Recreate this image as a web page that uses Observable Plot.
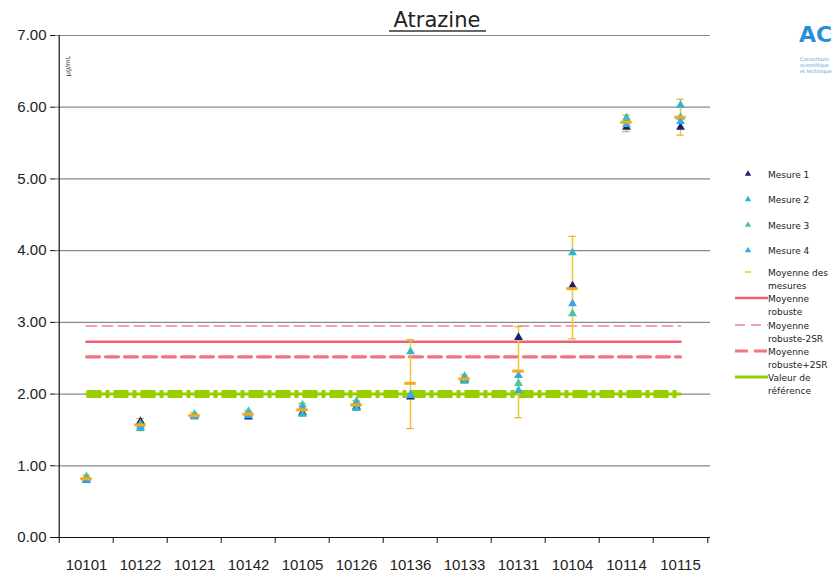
<!DOCTYPE html>
<html>
<head>
<meta charset="utf-8">
<script src="https://cdn.jsdelivr.net/npm/d3@7"></script>
<script src="https://cdn.jsdelivr.net/npm/@observablehq/plot@0.6"></script>
<style>
  html, body { margin: 0; padding: 0; background: #fff; }
  #chart { width: 834px; height: 576px; overflow: hidden; }
</style>
</head>
<body>
<div id="chart"></div>
<script>
// ---- data ----
const title = "Atrazine";
const unitLabel = "µg/mL";
const categories = ["10101","10122","10121","10142","10105","10126","10136","10133","10131","10104","10114","10115"];
const mesure1 = [0.80, 1.62, 1.70, 1.68, 1.74, 1.82, 1.96, 2.20, 2.79, 3.51, 5.72, 5.72];
const mesure2 = [0.82, 1.52, 1.70, 1.72, 1.72, 1.80, 2.59, 2.18, 2.05, 3.97, 5.85, 6.03];
const mesure3 = [0.85, 1.58, 1.72, 1.76, 1.85, 1.90, 2.00, 2.25, 2.15, 3.12, 5.82, 5.86];
const mesure4 = [0.80, 1.55, 1.68, 1.70, 1.80, 1.86, 1.98, 2.22, 2.26, 3.26, 5.76, 5.80];
const moyenne = [0.82, 1.57, 1.70, 1.72, 1.78, 1.85, 2.15, 2.21, 2.32, 3.47, 5.79, 5.86];
const errLow  = [0.77, 1.49, 1.66, 1.66, 1.70, 1.78, 1.52, 2.16, 1.67, 2.77, 5.66, 5.61];
const errHigh = [0.87, 1.66, 1.74, 1.77, 1.87, 1.91, 2.76, 2.27, 2.94, 4.20, 5.89, 6.11];
const moyenneRobuste = 2.73;
const robusteMoins2SR = 2.95;
const robustePlus2SR = 2.52;
const valeurReference = 2.00;
const yTicks = [0, 1, 2, 3, 4, 5, 6, 7];
const seriesNames = ["Mesure 1", "Mesure 2", "Mesure 3", "Mesure 4"];
const seriesColors = ["#1b1f78", "#2cb6d2", "#4ec4a2", "#3ba8e6"];
const legendLines = [
  ["Moyenne des", "mesures"],
  ["Moyenne", "robuste"],
  ["Moyenne", "robuste-2SR"],
  ["Moyenne", "robuste+2SR"],
  ["Valeur de", "référence"]
];

// ---- build tables ----
const measures = [mesure1, mesure2, mesure3, mesure4];
const points = [];
measures.forEach((arr, s) => arr.forEach((v, i) => points.push({cat: categories[i], series: seriesNames[s], value: v})));
const stats = categories.map((c, i) => ({cat: c, mean: moyenne[i], lo: errLow[i], hi: errHigh[i]}));

const W = 834, H = 576, mL = 55, mR = 124, mT = 35, mB = 39;
const bw = (W - mL - mR) / categories.length;

const refLine = (v) => categories.map(c => ({cat: c, v}));

const plot = Plot.plot({
  width: W, height: H,
  marginLeft: mL, marginRight: mR, marginTop: mT, marginBottom: mB,
  style: {fontFamily: "'Liberation Sans', Arial, sans-serif", background: "#fff", color: "#222"},
  x: {type: "band", domain: categories, padding: 0, label: null},
  y: {domain: [0, 7], label: null},
  color: {domain: seriesNames, range: seriesColors},
  marks: [
    Plot.gridY(yTicks, {stroke: "#8a8a8a", strokeOpacity: 1, strokeWidth: 1.2}),
    // reference lines
    Plot.lineY(refLine(valeurReference), {x: "cat", y: "v", stroke: "#9acd00", strokeWidth: 3}),
    Plot.lineY(refLine(valeurReference), {x: "cat", y: "v", stroke: "#9acd00", strokeWidth: 8, strokeDasharray: "15,4,4,4", strokeLinecap: "butt"}),
    Plot.lineY(refLine(robusteMoins2SR), {x: "cat", y: "v", stroke: "#f2a3aa", strokeWidth: 2, strokeDasharray: "10,6"}),
    Plot.lineY(refLine(robustePlus2SR), {x: "cat", y: "v", stroke: "#ee7581", strokeWidth: 3.2, strokeDasharray: "13,6"}),
    Plot.lineY(refLine(moyenneRobuste), {x: "cat", y: "v", stroke: "#f0606e", strokeWidth: 2.5}),
    // error bars
    Plot.ruleX(stats, {x: "cat", y1: "lo", y2: "hi", stroke: "#f4c531", strokeWidth: 1.5}),
    Plot.tickY(stats, {x: "cat", y: "lo", stroke: "#e0b030", strokeWidth: 1.2, insetLeft: bw / 2 - 4, insetRight: bw / 2 - 4}),
    Plot.tickY(stats, {x: "cat", y: "hi", stroke: "#e0b030", strokeWidth: 1.2, insetLeft: bw / 2 - 4, insetRight: bw / 2 - 4}),
    // measures
    Plot.dot(points, {x: "cat", y: "value", fill: "series", symbol: "triangle", r: 3.3, stroke: "none"}),
    // mean
    Plot.tickY(stats, {x: "cat", y: "mean", stroke: "#f5a91c", strokeWidth: 3, insetLeft: bw / 2 - 6, insetRight: bw / 2 - 6}),
    // axes
    Plot.ruleY([0], {stroke: "#111", strokeWidth: 1.2}),
    Plot.ruleX([categories[0]], {dx: -bw / 2, stroke: "#111", strokeWidth: 1.2}),
    Plot.ruleX(categories, {x: d => d, y1: 0, y2: 0, insetBottom: -6, dx: -bw / 2, stroke: "#111"}),
    Plot.ruleX([categories[categories.length - 1]], {y1: 0, y2: 0, insetBottom: -6, dx: bw / 2, stroke: "#111"}),
    Plot.axisY({ticks: yTicks, tickFormat: d3.format(".2f"), tickSize: 5, tickPadding: 4, fontSize: 15, label: null, stroke: "#111", fill: "#222"}),
    Plot.axisX({tickSize: 0, tickPadding: 22, fontSize: 15, label: null, fill: "#222"})
  ]
});

document.getElementById("chart").appendChild(plot);

// ---- decorations (title, unit, legend, logo) ----
const svg = d3.select(plot);
svg.append("text")
  .attr("x", 437).attr("y", 27)
  .attr("text-anchor", "middle")
  .attr("font-family", "'DejaVu Sans', sans-serif")
  .attr("font-size", 21)
  .attr("fill", "#222")
  .text(title);
svg.append("line")
  .attr("x1", 389).attr("x2", 486).attr("y1", 31).attr("y2", 31)
  .attr("stroke", "#333").attr("stroke-width", 1.5);

svg.append("text")
  .attr("transform", "translate(70,66) rotate(-90)")
  .attr("text-anchor", "middle")
  .attr("font-family", "'DejaVu Sans', sans-serif")
  .attr("font-size", 6.5)
  .attr("fill", "#333")
  .text(unitLabel);

const lg = svg.append("g")
  .attr("font-family", "'DejaVu Sans', sans-serif")
  .attr("font-size", 9)
  .attr("text-anchor", "start")
  .attr("fill", "#222");
const tri = d3.symbol(d3.symbolTriangle, 18);
seriesNames.forEach((name, i) => {
  const y = 174 + i * 25.5;
  lg.append("path").attr("d", tri()).attr("transform", `translate(748,${y})`).attr("fill", seriesColors[i]);
  lg.append("text").attr("x", 768).attr("y", y + 3.5).text(name);
});
const rowY = [272, 298, 325, 351, 377];
legendLines.forEach((lines, i) => {
  const y = rowY[i];
  lines.forEach((t, j) => lg.append("text").attr("x", 768).attr("y", y + 3.5 + j * 13).text(t));
});
// legend samples
lg.append("line").attr("x1", 745).attr("x2", 751).attr("y1", rowY[0]).attr("y2", rowY[0]).attr("stroke", "#f4c531").attr("stroke-width", 1.5);
lg.append("line").attr("x1", 735).attr("x2", 768).attr("y1", rowY[1]).attr("y2", rowY[1]).attr("stroke", "#f0606e").attr("stroke-width", 2.5);
lg.append("line").attr("x1", 735).attr("x2", 768).attr("y1", rowY[2]).attr("y2", rowY[2]).attr("stroke", "#f2a3aa").attr("stroke-width", 2).attr("stroke-dasharray", "10,6");
lg.append("line").attr("x1", 735).attr("x2", 768).attr("y1", rowY[3]).attr("y2", rowY[3]).attr("stroke", "#ee7581").attr("stroke-width", 3.2).attr("stroke-dasharray", "13,6");
lg.append("line").attr("x1", 735).attr("x2", 768).attr("y1", rowY[4]).attr("y2", rowY[4]).attr("stroke", "#9acd00").attr("stroke-width", 3);

// logo
const logo = svg.append("g").attr("font-family", "'DejaVu Sans', sans-serif").attr("text-anchor", "start");
logo.append("text").attr("x", 799).attr("y", 42).attr("font-size", 22).attr("font-weight", "bold").attr("fill", "#2a8fd8").text("AC");
["Consortium", "scientifique", "et technique"].forEach((t, i) =>
  logo.append("text").attr("x", 800).attr("y", 61 + i * 6).attr("font-size", 5).attr("fill", "#5b9bd0").text(t));
</script>
</body>
</html>
